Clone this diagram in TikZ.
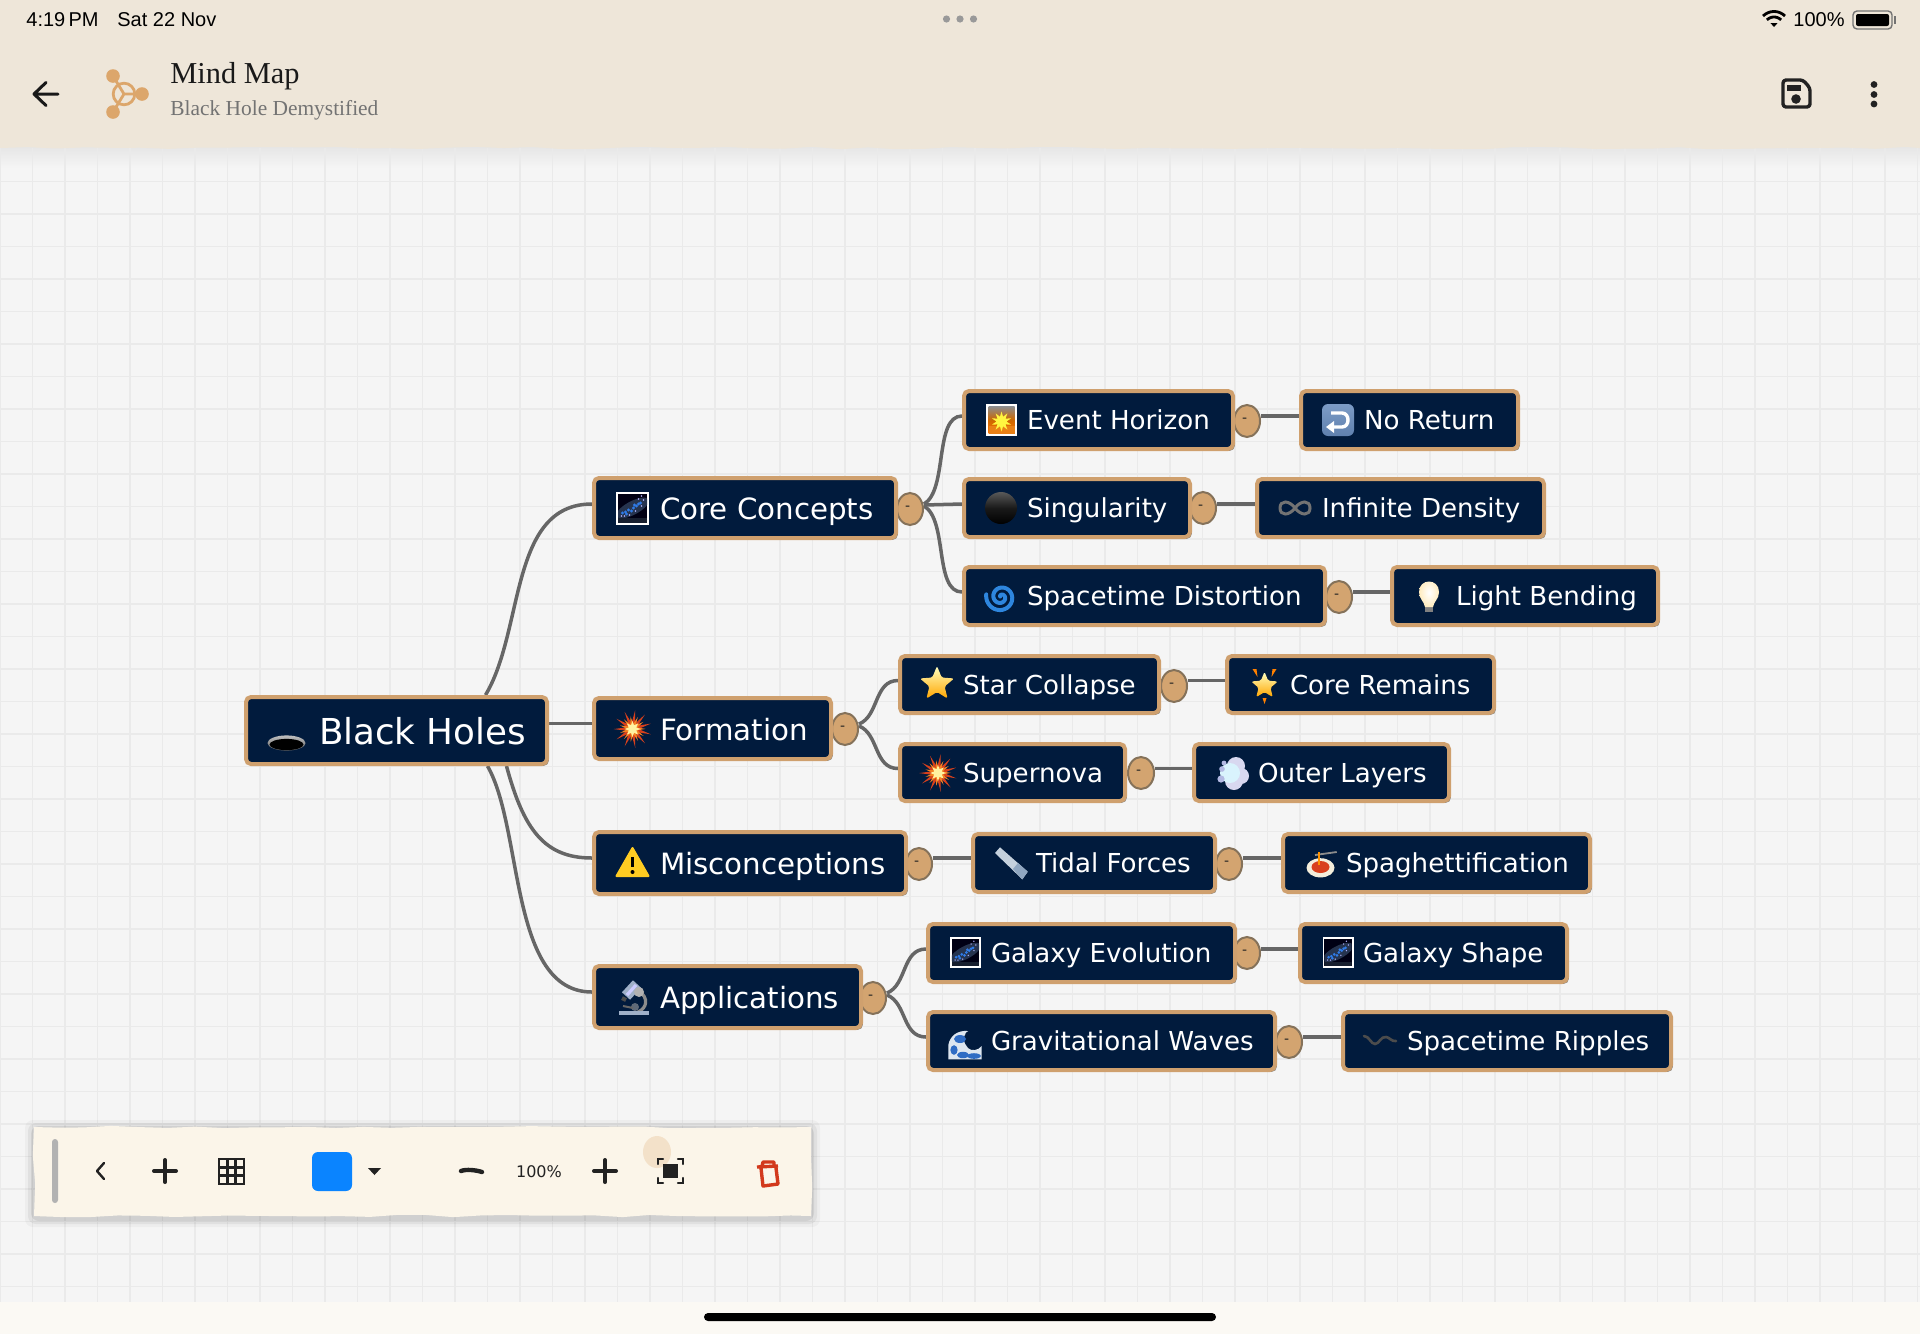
\documentclass[tikz,border=0pt]{standalone}
\usepackage{fontspec}
\setmainfont{DejaVu Sans}
\newfontfamily\ttlfont{Liberation Serif}
\newfontfamily\statfont{Liberation Sans}
\usetikzlibrary{shapes.geometric,shadows,decorations.pathmorphing,calc}
\pgfdeclarelayer{bgl}
\pgfdeclarelayer{conn}
\pgfsetlayers{bgl,conn,main}
\definecolor{navy}{HTML}{011B3D}
\definecolor{tan}{HTML}{CFA06E}
\definecolor{hdlb}{HTML}{85725A}
\definecolor{hdl}{HTML}{D3A470}
\definecolor{wire}{HTML}{666666}
\definecolor{canvas}{HTML}{F5F5F5}
\definecolor{gridc}{HTML}{EAEAEA}
\definecolor{head}{HTML}{EEE6D9}
\definecolor{tool}{HTML}{FBF5E9}
\definecolor{foot}{HTML}{FBF9F4}
\definecolor{logoc}{HTML}{DCA66B}
\definecolor{ink}{HTML}{222222}
\definecolor{burnt}{HTML}{D2391C}
\definecolor{blueb}{HTML}{0A84FF}
\definecolor{warny}{HTML}{FFCC22}
\definecolor{steel}{HTML}{7C9CC6}
\definecolor{steeld}{HTML}{5F80AE}
\definecolor{spir}{HTML}{2E86DE}
\definecolor{bandc}{HTML}{26344F}
\definecolor{specb}{HTML}{2F7BE8}
\definecolor{waveb}{HTML}{2F6CC4}
\definecolor{foam}{HTML}{DDE6F0}
\definecolor{tubec}{HTML}{9FB0C8}
\definecolor{rulec}{HTML}{C5D1DD}
\definecolor{ruled}{HTML}{8FA6C0}
\definecolor{brst}{HTML}{D7401C}
\definecolor{brsm}{HTML}{F58220}
\definecolor{brsc}{HTML}{FFF2A0}
\definecolor{sauce}{HTML}{D9401E}
\definecolor{plate}{HTML}{F4EEDC}
\tikzset{
  x=.5pt,y=-.5pt,
  mmbox/.style={rectangle,rounded corners=2.5pt,draw=tan,line width=2pt,fill=navy,text=white,inner sep=0pt,
    drop shadow={shadow xshift=.9pt,shadow yshift=-.9pt,fill=black!65,opacity=.75}},
  rootn/.style={mmbox,font=\fontsize{17.85}{20}\selectfont,text height=14pt,text depth=0pt},
  lone/.style={mmbox,font=\fontsize{14.65}{17}\selectfont,text height=11.7pt,text depth=0pt},
  ltwo/.style={mmbox,font=\fontsize{13.05}{15}\selectfont,text height=9.5pt,text depth=0pt},
  hdlnode/.style={ellipse,draw=hdlb,line width=1pt,fill=hdl,inner sep=0pt,minimum width=13pt,minimum height=16pt,
    font=\fontsize{7}{8}\selectfont,text=ink},
  wirel/.style={draw=wire,line width=1.75pt},
  gridl/.style={draw=gridc,line width=.7pt},
  thick1/.style={line width=2pt,draw=ink,line cap=round},
  torn/.style={decorate,decoration={random steps,segment length=14pt,amplitude=.6pt}},
}
\newcommand\mmnode[8]{%
  \pgfmathsetlengthmacro\mmW{(#5-#3-3)*.5pt}%
  \pgfmathsetlengthmacro\mmH{(#6-#4-4)*.5pt}%
  \pgfmathsetlengthmacro\mmL{(#7-#3-2)*.5pt}%
  \node[#1,minimum width=\mmW,minimum height=\mmH] (#2) at ({(#3+#5)/2-.5},{(#4+#6)/2}) {\makebox[\mmW][l]{\hspace*{\mmL}#8}};}
\newcommand\mmh[3]{\node[hdlnode] (#1) at (#2,#3) {\raisebox{1.2pt}{\hspace*{-2.4pt}-}};}
\newcommand\spikes[5]{% n, R, r, rot, colour
  \fill[#5] ({-90+#4}:#2) foreach \i in {1,...,\numexpr2*#1-1\relax} { -- ({-90+#4+\i*180/#1}:{ifthenelse(isodd(\i),#3,#2)}) } -- cycle;}
\newcommand\icgalaxy[3]{\begin{scope}[shift={(#1,#2)},scale=#3]
  \fill[white] (-16.5,-16.5) rectangle (16.5,16.5);
  \fill[black!92!blue] (-14.5,-14.5) rectangle (14.5,14.5);
  \begin{scope}
    \clip (-14.5,-14.5) rectangle (14.5,14.5);
    \fill[bandc,rotate=28] (0,0) ellipse [x radius=9pt,y radius=3.4pt];
    \fill[bandc!60!black] (-14.5,10) rectangle (14.5,14.5);
  \end{scope}
  \foreach \a/\b in {-10/5,-7/4,-4/2,-1/3,1/0,4/-2,6/-4,-6/6,2/-3,8/-5}
    \fill[specb] (\a,\b) circle (.8pt);
  \foreach \a/\b in {-11/8,-3/7,3/3,9/-12,6/-9,11/-8,9/-2,-8/8}
    \fill[white!70!blue] (\a,\b) circle (.4pt);
\end{scope}}
\newcommand\icburst[2]{\begin{scope}[shift={(#1,#2)}]
  \spikes{11}{19}{6}{8}{brst}
  \spikes{11}{13}{5}{24}{brsm}
  \spikes{8}{8}{4}{0}{brsc}
\end{scope}}
\newcommand\icstar[2]{\begin{scope}[shift={(#1,#2)}]
  \shade[top color=yellow!25!white,bottom color=orange!70!yellow,rounded corners=.8pt]
   (-90:18) foreach \i in {1,...,9} { -- ({-90+\i*36}:{ifthenelse(isodd(\i),8,18)}) } -- cycle;
\end{scope}}
\begin{document}
\begin{tikzpicture}
\useasboundingbox (0,0) rectangle (1920,1334);
\pgfmathsetseed{7}
\begin{pgfonlayer}{bgl}
  \fill[canvas] (0,0) rectangle (1920,1334);
  \shade[top color=black!10,bottom color=canvas] (0,146) rectangle (1920,168);
  \foreach \i in {0,...,59} \draw[gridl] ({\i*32.5},148) -- ({\i*32.5},1302);
  \foreach \i in {5,...,40} \draw[gridl] (0,{19+\i*32.5}) -- (1920,{19+\i*32.5});
\end{pgfonlayer}
% ---------- handles
\mmh{hcore}{910}{509}
\mmh{hform}{845}{729}
\mmh{hmisc}{919}{864}
\mmh{happ}{873}{998}
\mmh{hev}{1247}{421}
\mmh{hsing}{1203}{508}
\mmh{hsd}{1339}{597}
\mmh{hsc}{1174}{686}
\mmh{hsn}{1141}{773}
\mmh{htf}{1229}{864}
\mmh{hge}{1247}{953}
\mmh{hgw}{1289}{1042}
% ---------- boxes
\mmnode{rootn}{root}{245}{695}{549}{766}{320}{Black Holes}
\mmnode{lone}{core}{593}{476}{898}{540}{661}{Core Concepts}
\mmnode{lone}{form}{593}{696}{833}{761}{661}{Formation}
\mmnode{lone}{misc}{593}{830}{908}{896}{661}{Misconceptions}
\mmnode{lone}{appl}{593}{964}{863}{1030}{661}{Applications}
\mmnode{ltwo}{ev}{963}{389}{1235}{451}{1028}{Event Horizon}
\mmnode{ltwo}{noret}{1300}{389}{1520}{451}{1365}{No Return}
\mmnode{ltwo}{sing}{963}{477}{1192}{539}{1028}{Singularity}
\mmnode{ltwo}{infd}{1256}{477}{1546}{539}{1323}{Infinite Density}
\mmnode{ltwo}{sd}{963}{565}{1327}{627}{1028}{Spacetime Distortion}
\mmnode{ltwo}{lb}{1391}{565}{1660}{627}{1457}{Light Bending}
\mmnode{ltwo}{sc}{899}{654}{1161}{715}{964}{Star Collapse}
\mmnode{ltwo}{cr}{1226}{654}{1496}{715}{1291}{Core Remains}
\mmnode{ltwo}{sn}{899}{742}{1127}{803}{964}{Supernova}
\mmnode{ltwo}{ol}{1193}{742}{1451}{803}{1259}{Outer Layers}
\mmnode{ltwo}{tf}{972}{832}{1217}{894}{1037}{Tidal Forces}
\mmnode{ltwo}{sp}{1282}{832}{1592}{894}{1347}{Spaghettification}
\mmnode{ltwo}{ge}{927}{922}{1237}{984}{992}{Galaxy Evolution}
\mmnode{ltwo}{gs}{1299}{922}{1569}{984}{1364}{Galaxy Shape}
\mmnode{ltwo}{gw}{927}{1010}{1277}{1072}{992}{Gravitational Waves}
\mmnode{ltwo}{sr}{1342}{1010}{1673}{1072}{1408}{Spacetime Ripples}
% ---------- connectors
\begin{pgfonlayer}{conn}
  \draw[wirel] ([xshift=44.5pt]root.north) .. controls +(39,-65) and +(-83,0) .. ([yshift=2pt]core.west);
  \draw[wirel] (root.east |- form.west) ++(0,-5) -- ([yshift=2.5pt]form.west);
  \draw[wirel] ([xshift=55pt]root.south) .. controls +(17,63) and +(-48,0) .. ([yshift=2.5pt]misc.west);
  \draw[wirel] ([xshift=45.5pt]root.south) .. controls +(36,63) and +(-83,0) .. ([yshift=2.5pt]appl.west);
  \draw[wirel] ([yshift=2.5pt]hcore.east) .. controls +(24,-14) and +(-28,0) .. ([yshift=2pt]ev.west);
  \draw[wirel] ([yshift=2pt]hcore.east) -- ([yshift=2pt]sing.west);
  \draw[wirel] ([yshift=1.5pt]hcore.east) .. controls +(24,14) and +(-28,0) .. ([yshift=2pt]sd.west);
  \draw[wirel] ([yshift=2.5pt]hform.east) .. controls +(20,-8) and +(-24,0) .. ([yshift=2pt]sc.west);
  \draw[wirel] ([yshift=1.5pt]hform.east) .. controls +(20,8) and +(-24,0) .. ([yshift=2pt]sn.west);
  \draw[wirel] ([yshift=2.5pt]happ.east) .. controls +(20,-8) and +(-24,0) .. ([yshift=2pt]ge.west);
  \draw[wirel] ([yshift=1.5pt]happ.east) .. controls +(20,8) and +(-24,0) .. ([yshift=2pt]gw.west);
  \draw[wirel] ([yshift=2pt]noret.west -| hev.east) -- ([yshift=2pt]noret.west);
  \draw[wirel] ([yshift=2pt]infd.west -| hsing.east) -- ([yshift=2pt]infd.west);
  \draw[wirel] ([yshift=2pt]lb.west -| hsd.east) -- ([yshift=2pt]lb.west);
  \draw[wirel] ([yshift=2pt]cr.west -| hsc.east) -- ([yshift=2pt]cr.west);
  \draw[wirel] ([yshift=2pt]ol.west -| hsn.east) -- ([yshift=2pt]ol.west);
  \draw[wirel] ([yshift=2.5pt]tf.west -| hmisc.east) -- ([yshift=2.5pt]tf.west);
  \draw[wirel] ([yshift=2.5pt]sp.west -| htf.east) -- ([yshift=2.5pt]sp.west);
  \draw[wirel] ([yshift=2pt]gs.west -| hge.east) -- ([yshift=2pt]gs.west);
  \draw[wirel] ([yshift=2pt]sr.west -| hgw.east) -- ([yshift=2pt]sr.west);
\end{pgfonlayer}
% ---------- icons
% black hole
\begin{scope}[shift={(286.5,743)}]
  \shade[top color=black!25,bottom color=black!60] (0,0) ellipse [x radius=9.5pt,y radius=3.8pt];
  \fill[black] (0,1.5) ellipse [x radius=8.5pt,y radius=2.8pt];
\end{scope}
\icgalaxy{632.5}{508}{1}
\icburst{632.5}{729}
% warning
\begin{scope}[shift={(632.5,862)}]
  \fill[warny,draw=warny,line width=1pt,line join=round] (0,-14) -- (16,14) -- (-16,14) -- cycle;
  \draw[black,line width=1.5pt] (0,-5) -- (0,5);
  \fill[black] (0,10) circle (1pt);
\end{scope}
% microscope
\begin{scope}[shift={(635,1000)}]
  \draw[black!45,line width=1.6pt] (4,-9) .. controls (14,-2) and (12,8) .. (3,12);
  \draw[tubec,line width=5.5pt] (-9,-4) -- (2,-16);
  \draw[white!80!blue,line width=1.6pt] (-8,-5) -- (1,-15);
  \draw[black!70,line width=2pt] (-13,-2) -- (-9,0);
  \fill[black!30] (4,-8) circle (2.5pt);
  \fill[tubec!60!black] (0,7) circle (2pt);
  \draw[black!60,line width=1pt] (-12,6) -- (-2,8);
  \fill[tubec] (-16,11) rectangle (14,14.5);
\end{scope}
% sunrise
\begin{scope}[shift={(1001.5,420)}]
  \fill[white] (-15.5,-16) rectangle (15.5,16);
  \shade[top color=black!45,bottom color=orange!90!red,middle color=orange!80!black] (-13,-13.5) rectangle (13,13.5);
  \fill[orange!65!brown] (-13,6) rectangle (13,13.5);
  \begin{scope}[shift={(0,1.5)}]
    \spikes{10}{10}{5}{0}{yellow!75!white}
  \end{scope}
\end{scope}
% singularity
\shade[top color=black!65,bottom color=black,middle color=black!90] (1001,508) circle (8pt);
% spiral
\begin{scope}[shift={(1001,597)}]
  \draw[spir,line width=2pt,line cap=round] plot[domain=0:700,samples=80,smooth] ({\x+210}:{1+\x/700*14});
\end{scope}
% return
\begin{scope}[shift={(1338,420)}]
  \shade[top color=steel,bottom color=steeld,rounded corners=3pt] (-16,-16) rectangle (16,16);
  \draw[white,line width=1.7pt] (-7,-7) -- (4,-7) .. controls (12,-7) and (12,7) .. (4,7) -- (-6,7);
  \fill[white] (-12,7) -- (-4,1) -- (-4,13) -- cycle;
\end{scope}
% infinity
\begin{scope}[shift={(1295,508)}]
  \draw[black!55,line width=1.5pt] (0,0) .. controls (-6,-8) and (-15,-8) .. (-15,0) .. controls (-15,8) and (-6,8) .. (0,0) .. controls (6,-8) and (15,-8) .. (15,0) .. controls (15,8) and (6,8) .. (0,0);
\end{scope}
% bulb
\begin{scope}[shift={(1429,597)}]
  \fill[black!50] (-4,8) rectangle (4,15);
  \shade[inner color=white,outer color=yellow!40!orange!25!white] (-10,-5) .. controls (-10,-19) and (10,-19) .. (10,-5) .. controls (10,2) and (5,4) .. (4,10) -- (-4,10) .. controls (-5,4) and (-10,2) .. (-10,-5) -- cycle;
\end{scope}
\icstar{937}{684}
% glowing star
\begin{scope}[shift={(1264.5,685)}]
  \begin{scope}[scale=.78,shift={(0,1)}]
    \shade[top color=yellow!25!white,bottom color=orange!70!yellow,rounded corners=.8pt]
     (-90:18) foreach \i in {1,...,9} { -- ({-90+\i*36}:{ifthenelse(isodd(\i),8,18)}) } -- cycle;
  \end{scope}
  \fill[orange] (-12,-16) -- (-8,-16) -- (-7,-8) -- cycle;
  \fill[orange] (12,-16) -- (8,-16) -- (7,-8) -- cycle;
  \fill[orange] (-2,13) -- (2,13) -- (0,19) -- cycle;
\end{scope}
\icburst{938}{773}
% cloud
\begin{scope}[shift={(1233,773)}]
  \fill[cyan!25!blue!15!white] (3,-7) circle (4.5pt);
  \fill[cyan!25!blue!15!white] (8,3) circle (4pt);
  \fill[cyan!25!blue!15!white] (1,8) circle (4.5pt);
  \fill[cyan!15!white] (-3,0) circle (5pt);
  \fill[cyan!30!blue!30!white] (-11,-4) circle (1.4pt);
  \fill[cyan!30!blue!30!white] (-12,6) circle (1.8pt);
  \fill[cyan!30!blue!30!white] (-9,-10) circle (1.2pt);
\end{scope}
% ruler
\fill[rulec] (995,853) -- (1000,847.3) -- (1027.7,871.7) -- (1022.3,879.3) -- cycle;
\fill[ruled] (1013,869) -- (1018,863) -- (1027.7,871.7) -- (1022.3,879.3) -- cycle;
% spaghetti
\begin{scope}[shift={(1320,865)}]
  \fill[plate] (.5,2.8) ellipse [x radius=7pt,y radius=4.8pt];
  \fill[sauce] (.5,2) ellipse [x radius=4.5pt,y radius=3pt];
  \draw[black!45,line width=.9pt] (-5,-10) -- (16.7,-13);
  \draw[orange!85!yellow,line width=1.2pt] (-1,-13) -- (-1,0);
\end{scope}
\icgalaxy{965.5}{952.5}{.94}
\icgalaxy{1338}{952.5}{.94}
% wave
\begin{scope}[shift={(965,1045)}]
  \fill[foam] (-16.7,14.3) -- (-16.7,0) .. controls (-15,-9) and (-8,-15) .. (3.3,-14) .. controls (1,-13) and (0,-12) .. (0,-10) .. controls (-3,-8) and (-2,-3) .. (3.3,3.3) .. controls (6,6) and (13,6) .. (16.7,1) -- (16.7,14.3) -- cycle;
  \fill[waveb] (-5,-6) ellipse [x radius=3pt,y radius=2pt];
  \fill[waveb] (-11,5) ellipse [x radius=1.8pt,y radius=2.4pt];
  \fill[waveb] (-2,10) ellipse [x radius=3pt,y radius=1.6pt];
  \fill[waveb] (9,11) ellipse [x radius=3.4pt,y radius=1.4pt];
\end{scope}
% wavy dash
\draw[black!70,line width=1.3pt,line cap=round] (1364,1036) .. controls (1369,1036) and (1371,1044) .. (1375,1044) .. controls (1379,1044) and (1381,1036) .. (1386,1037) .. controls (1389,1037) and (1392,1042) .. (1396,1041);
% ---------- header
\fill[head,torn] (0,0) -- (0,148) -- (1920,148) -- (1920,0) -- cycle;
\fill[head] (0,0) rectangle (1920,143);
\node[anchor=base west,font=\statfont\fontsize{10}{12}\selectfont,text=black,inner sep=0pt] (clock) at (26,26) {4:19\,PM};
\node[anchor=base west,font=\statfont\fontsize{10}{12}\selectfont,text=black,inner sep=0pt] (date) at (117,26) {Sat 22 Nov};
\node[anchor=base east,font=\statfont\fontsize{10}{12}\selectfont,text=black,inner sep=0pt] (pct) at (1845,26) {100\%};
\foreach \a in {946.5,960,973.5} \fill[black!40] (\a,19) circle (1.8pt);
% wifi
\begin{scope}[shift={(1774,27)}]
  \fill[black] (0,0) -- (-3.6,-4) -- (3.6,-4) -- cycle;
  \draw[black,line width=1.4pt] plot[domain=225:315,samples=14] (\x:10);
  \draw[black,line width=1.4pt] plot[domain=225:315,samples=14] (\x:15.5);
\end{scope}
% battery
\draw[black!55,line width=.7pt,rounded corners=2pt] (1853,11) rectangle (1892,29);
\fill[black,rounded corners=1pt] (1856,14) rectangle (1889,26);
\fill[black!55] (1893.5,16) rectangle (1896,24);
% back arrow
\draw[black!90,line width=1.5pt,line cap=round,line join=round] (58,94) -- (34,94) (46,82.5) -- (34,94) -- (46,105.5);
% logo
\fill[logoc] (113,76) circle (3.4pt) (142,94) circle (3.4pt) (113,112) circle (3.4pt);
\draw[logoc,line width=1.4pt] (124,94) circle (5.4pt);
\draw[logoc,line width=1.4pt] (113,76) -- (124,94) -- (142,94) (124,94) -- (113,112);
\node[anchor=base west,font=\ttlfont\fontsize{15.2}{17}\selectfont,text=black!90,inner sep=0pt] (title) at (170,83) {Mind Map};
\node[anchor=base west,font=\ttlfont\fontsize{10.7}{13}\selectfont,text=black!55,inner sep=0pt] (subtitle) at (170,115) {Black Hole Demystified};
% save
\draw[ink,line width=1.7pt,rounded corners=1.5pt,line join=round] (1783,80) -- (1803,80) -- (1810,88) -- (1810,107) -- (1783,107) -- cycle;
\fill[ink] (1787,85) rectangle (1801,91);
\fill[ink] (1796,99) circle (2.4pt);
\foreach \a in {84.5,94.5,104} \fill[ink] (1874,\a) circle (1.7pt);
% ---------- bottom bar
\fill[foot] (0,1302) rectangle (1920,1334);
\fill[black,rounded corners=2pt] (704,1313) rectangle (1216,1321);
% ---------- toolbar
\foreach \e/\o in {9/.03,6/.05,3/.07} \fill[black,opacity=\o,rounded corners=4pt] ({34-\e},{1127-\e+2}) rectangle ({811+\e},{1216+\e+2});
\fill[tool,torn] (34,1127) -- (34,1216) -- (811,1216) -- (811,1127) -- cycle;
\fill[black!30,rounded corners=1.5pt] (52,1139) rectangle (58,1203);
\draw[ink,line width=1.2pt,line cap=round,line join=round] (104,1163) -- (97,1171) -- (104,1179);
\draw[thick1] (154,1171) -- (176,1171) (165,1160) -- (165,1182);
\draw[ink,line width=1.3pt] (219,1159) rectangle (244,1184);
\draw[ink,line width=1.3pt] (227.3,1159) -- (227.3,1184) (235.7,1159) -- (235.7,1184) (219,1167.3) -- (244,1167.3) (219,1175.7) -- (244,1175.7);
\fill[blueb,rounded corners=3pt] (312,1152) rectangle (352,1191);
\fill[ink] (368,1168) -- (381,1168) -- (374.5,1175) -- cycle;
\draw[ink,line width=2.2pt,line cap=round] (461,1171) .. controls (466,1169) and (476,1170) .. (482,1172);
\node[font=\fontsize{8}{10}\selectfont,text=ink,inner sep=0pt] (zoomlabel) at (539,1172) {100\%};
\draw[thick1] (594,1171) -- (616,1171) (605,1160) -- (605,1182);
\fill[logoc,opacity=.25] (657,1152) ellipse [x radius=7pt,y radius=8pt];
\fill[ink] (663,1164) rectangle (678,1178);
\draw[ink,line width=1.2pt,line cap=round] (658,1164) -- (658,1159) -- (663,1159) (678,1159) -- (683,1159) -- (683,1164) (683,1178) -- (683,1183) -- (678,1183) (663,1183) -- (658,1183) -- (658,1178);
\draw[burnt,line width=1.7pt,line join=round] (757,1167) -- (778,1166) (762,1166) -- (763,1162) -- (774,1162) -- (774,1166) (761,1168) -- (763,1186) -- (778,1184) -- (776,1168);
\end{tikzpicture}
\end{document}
